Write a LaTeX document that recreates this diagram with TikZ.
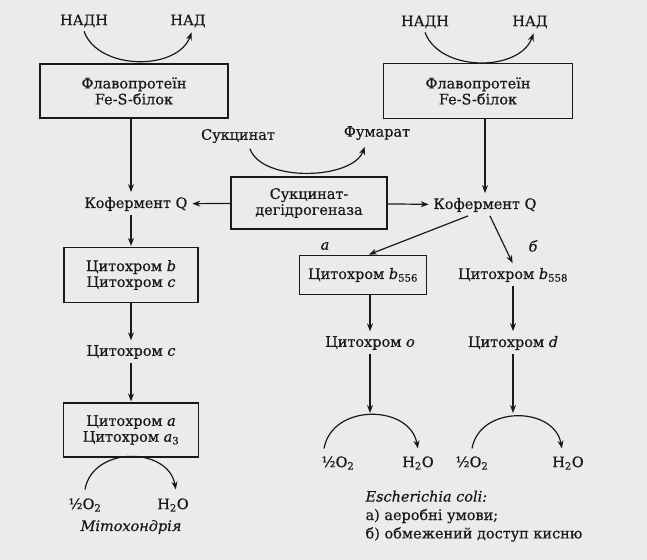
\documentclass[tikz,border=0pt]{standalone}
\usepackage{fontspec}
\setmainfont{DejaVu Serif}[FakeBold=0.5]
\usepackage{tikz}
\usetikzlibrary{arrows.meta}
\definecolor{fons}{RGB}{235,235,233}
\definecolor{chorny}{RGB}{25,25,25}

\begin{document}
\begin{tikzpicture}[   % opcii za zamovchuvannyam
      x=1bp, y=-1bp,     % koordynaty v pikselyakh
      shorten >=1pt,     % skorotyty liniyu v kintsi
      -{Stealth[length=8pt,width=6pt]}, % strilka v kintsi
      draw=chorny,
      line width=1.2pt,
      font=\fontsize{14.5}{16}\selectfont,
      text=chorny
    ]
    \tikzstyle{blok}=[draw, rectangle, align=center, inner sep=2pt];
    \tikzstyle{dug}=[looseness=1.25];
    %
    % fon
    \useasboundingbox (0,0) rectangle (647,560);
    \fill[fons, -, shorten >=0pt] (-10,-10) rectangle (660,570);
    %
    % mitokhondriya: livyi stovpets
    \node (nadh1) at (84,21) {НАДН};
    \node (nad1)  at (188,21) {НАД};
    \node [blok, minimum width=188bp, minimum height=54bp] (flavo1) at (134,91)
      {Флавопротеїн\\Fe-S-білок};
    \node (kofq1) at (136,204) {Кофермент Q};
    \node [blok, minimum width=134bp, minimum height=55bp] (cytbc) at (131,275)
      {Цитохром \textit{b}\\Цитохром \textit{c}};
    \node (cytc) at (131,352) {Цитохром \textit{c}};
    \node [blok, minimum width=135bp, minimum height=54bp] (cytaa) at (131,430)
      {Цитохром \textit{a}\\Цитохром \textit{a}\textsubscript{3}};
    \node (o2a)  at (85,505) {½O\textsubscript{2}};
    \node (h2oa) at (173,505) {H\textsubscript{2}O};
    \node (mito) at (131,527) {\textit{Мітохондрія}};
    %
    % suktsynat-degidrogenaza
    \node (sukc)  at (238,136) {Сукцинат};
    \node (fumar) at (377,133) {Фумарат};
    \node [blok, minimum width=156bp, minimum height=52bp] (sdg) at (309,203)
      {Сукцинат-\\дегідрогеназа};
    %
    % Escherichia coli: pravyi stovpets
    \node (nadh2) at (425,22) {НАДН};
    \node (nad2)  at (530,22) {НАД};
    \node [blok, minimum width=189bp, minimum height=55bp] (flavo2) at (478,91)
      {Флавопротеїн\\Fe-S-білок};
    \node (kofq2) at (485,205) {Кофермент Q};
    \node (la) at (325,246) {\textit{а}};
    \node (lb) at (533,246) {\textit{б}};
    \node [blok, minimum width=127bp, minimum height=39bp] (b556) at (363,275)
      {Цитохром \textit{b}\textsubscript{556}};
    \node (b558) at (513,275) {Цитохром \textit{b}\textsubscript{558}};
    \node (cyto) at (370,343) {Цитохром \textit{o}};
    \node (cytd) at (513,343) {Цитохром \textit{d}};
    \node (o2b)  at (338,463) {½O\textsubscript{2}};
    \node (h2ob) at (418,463) {H\textsubscript{2}O};
    \node (o2c)  at (472,463) {½O\textsubscript{2}};
    \node (h2oc) at (568,463) {H\textsubscript{2}O};
    \node [anchor=north west, align=left, inner sep=0pt,
           font=\fontsize{14.5}{18.5}\selectfont] (coli) at (365,490)
      {\textit{Escherichia coli:}\\а) аеробні умови;\\б) обмежений доступ кисню};
    %
    % vershyny dug nad stovptsyamy o i d
    \coordinate (topo) at (370,414);
    \coordinate (topd) at (513,414);
    %
    % dugy NADH -> NAD
    \draw ([yshift=0pt]nadh1.south) to[out=-70,in=-110] ([xshift=4pt,yshift=0pt]nad1.south);
    \draw ([yshift=0pt]nadh2.south) to[out=-70,in=-110] ([xshift=4pt,yshift=0pt]nad2.south);
    \draw ([xshift=12pt,yshift=-2pt]sukc.south) to[out=-70,in=-110, looseness=0.8] ([xshift=-12pt,yshift=-2pt]fumar.south);
    %
    % vertykalni strilky zliva
    \foreach \a/\b in {flavo1/kofq1, kofq1/cytbc, cytbc/cytc, cytc/cytaa} {
      \path (\a.south -| cytc) edge (\b.north -| cytc);
    }
    %
    % vid degidrogenazy do kofermentu
    \draw (sdg) -- (kofq1);
    \draw (sdg) -- (kofq2);
    %
    % pravyi stovpets
    \draw (flavo2.south -| kofq2) -- (kofq2);
    \draw ([xshift=-17pt]kofq2.south) -- ([xshift=5pt]b556.north);
    \draw ([xshift=5pt]kofq2.south) -- (b558.north);
    \draw (b556.south -| cyto) -- (cyto);
    \draw (b558) -- (cytd);
    \draw (cyto) -- (topo);
    \draw (cytd) -- (topd);
    %
    % dugy 1/2 O2 -> H2O
    \draw[dug] ([yshift=5pt]o2a.north) to[out=80,in=100] ([xshift=3pt,yshift=4pt]h2oa.north);
    \draw[dug] ([xshift=-14pt,yshift=4pt]o2b.north) to[out=80,in=100] ([yshift=3pt]h2ob.north);
    \draw[dug] ([yshift=4pt]o2c.north) to[out=80,in=100] ([xshift=-6pt,yshift=3pt]h2oc.north);
  \end{tikzpicture}
\end{document}
